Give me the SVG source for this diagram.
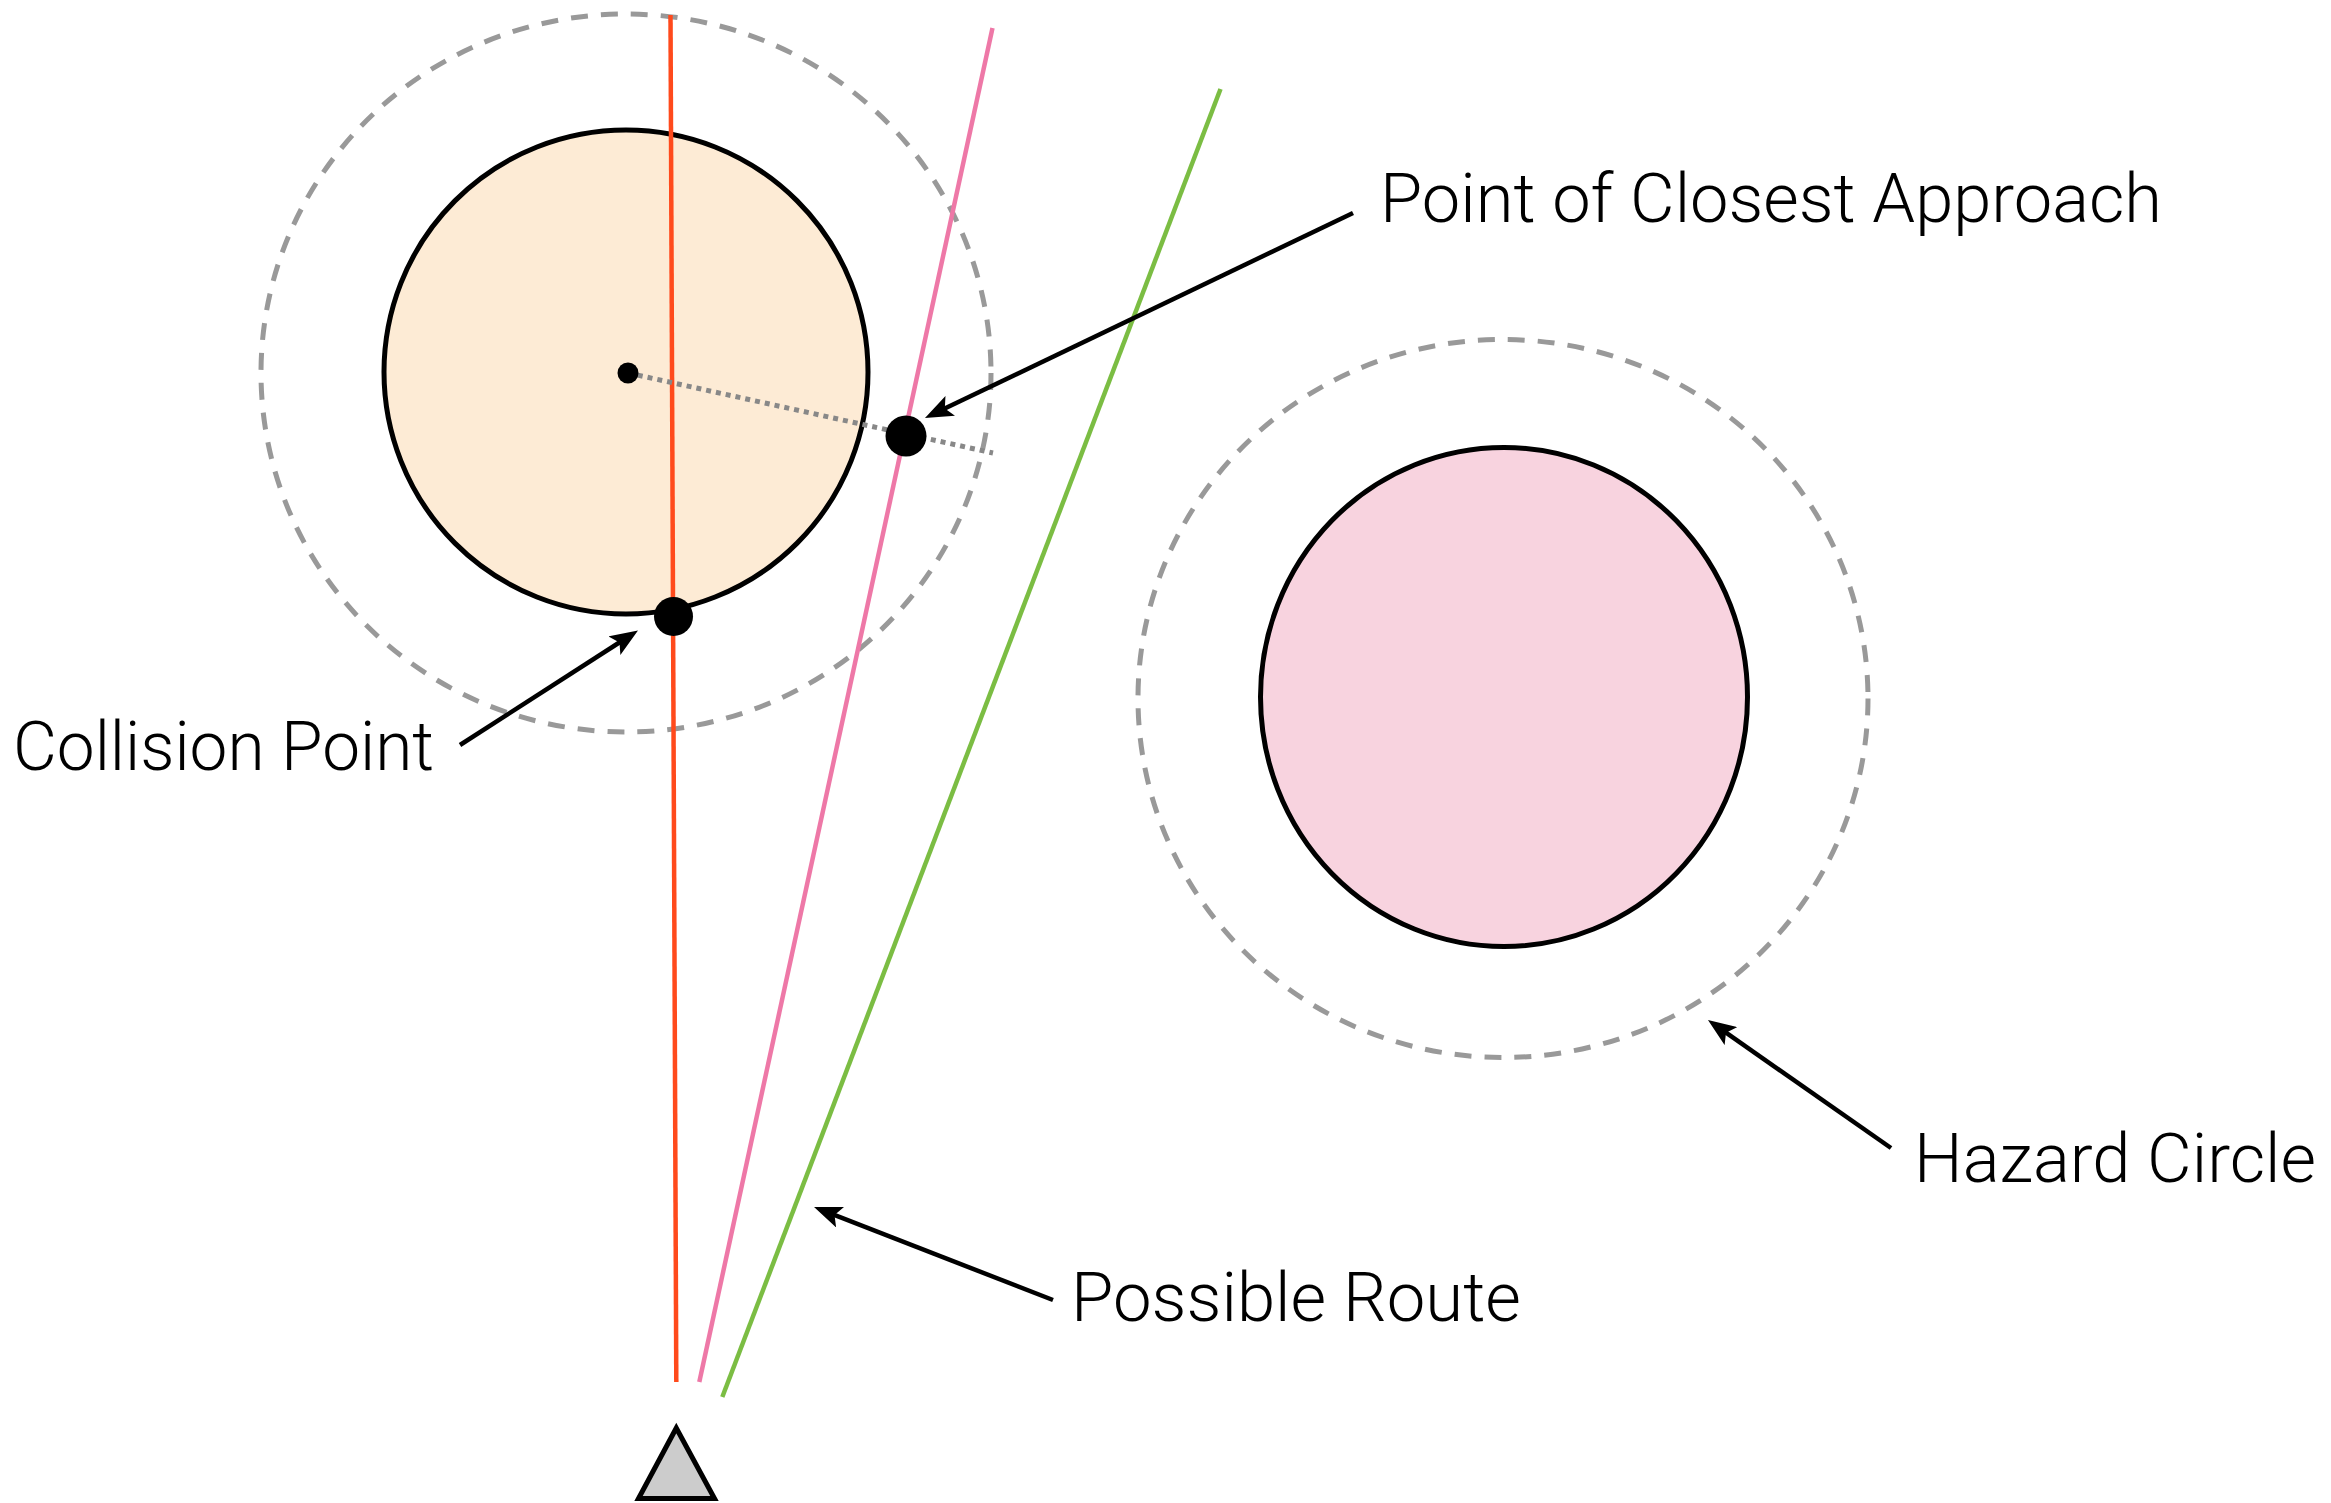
<svg xmlns="http://www.w3.org/2000/svg" width="2331" height="1503" viewBox="0 0 2331 1503">
  <style>
    .halo { fill: none; stroke: #999999; stroke-width: 5; stroke-dasharray: 17 13; }
    .body { stroke: #000000; stroke-width: 5; }
    .route { fill: none; stroke-width: 4.5; }
    .ptr { fill: none; stroke: #000000; stroke-width: 4.5; }
    .lbl { font-family: Roboto, "Liberation Sans", sans-serif; font-weight: 300; font-size: 68px; fill: #000000; }
    .dot { fill: #000000; }
  </style>
  <defs>
    <marker id="arrow" markerUnits="userSpaceOnUse" viewBox="0 0 28 22" markerWidth="28" markerHeight="22" refX="16" refY="11" orient="auto">
      <path d="M28 11 L0 0 L6 11 L0 22 Z" fill="#000000"/>
    </marker>
  </defs>
  <rect width="2331" height="1503" fill="#ffffff"/>

  <g id="hazard-left">
    <ellipse class="halo" cx="626" cy="373" rx="365" ry="359"/>
    <circle class="body" cx="626" cy="372" r="242" fill="#fdebd5"/>
  </g>

  <g id="hazard-right">
    <ellipse class="halo" cx="1503" cy="698.5" rx="365" ry="359"/>
    <ellipse class="body" cx="1504" cy="697" rx="243.5" ry="249.5" fill="#f8d3df"/>
  </g>

  <g id="routes">
    <line class="route" x1="670.5" y1="15" x2="676.3" y2="1382" stroke="#ff4a1c"/>
    <line class="route" x1="992.5" y1="28" x2="699.3" y2="1382" stroke="#ee78a7"/>
    <line class="route" x1="1220.5" y1="89" x2="722.3" y2="1397" stroke="#7bbd43"/>
  </g>

  <g id="closest-approach-measure">
    <line x1="628" y1="373" x2="993" y2="453" stroke="#888888" stroke-width="5" stroke-dasharray="5 5"/>
    <circle class="dot" cx="628" cy="373" r="10.5"/>
    <circle id="closest-point" class="dot" cx="906" cy="436" r="20.5"/>
    <circle id="collision-point" class="dot" cx="673.5" cy="616.5" r="19.5"/>
  </g>

  <g id="vehicle">
    <polygon points="676.3,1428 638.5,1498.5 714.5,1498.5" fill="#cccccc" stroke="#000000" stroke-width="5"/>
  </g>

  <g id="connectors">
    <line class="ptr" x1="1353" y1="213" x2="935.8" y2="412.8" marker-end="url(#arrow)"/>
    <line class="ptr" x1="460" y1="745" x2="627.9" y2="637" marker-end="url(#arrow)"/>
    <line class="ptr" x1="1053" y1="1300" x2="825.2" y2="1211.4" marker-end="url(#arrow)"/>
    <line class="ptr" x1="1891" y1="1148" x2="1717.8" y2="1026.9" marker-end="url(#arrow)"/>
  </g>

  <g id="labels">
    <text class="lbl" x="13" y="770" textLength="421" lengthAdjust="spacingAndGlyphs">Collision Point</text>
    <text class="lbl" x="1380" y="222" textLength="782" lengthAdjust="spacingAndGlyphs">Point of Closest Approach</text>
    <text class="lbl" x="1071" y="1321" textLength="450" lengthAdjust="spacingAndGlyphs">Possible Route</text>
    <text class="lbl" x="1914" y="1182" textLength="402" lengthAdjust="spacingAndGlyphs">Hazard Circle</text>
  </g>
</svg>
